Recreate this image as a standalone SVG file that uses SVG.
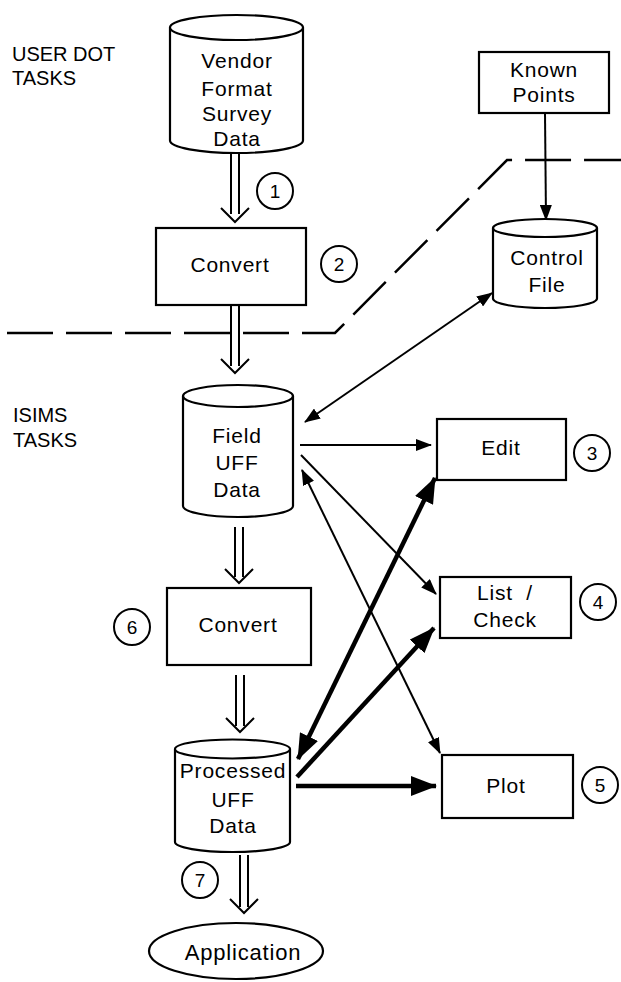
<svg xmlns="http://www.w3.org/2000/svg" width="621" height="982" viewBox="0 0 621 982">
  <style>
    .shape { fill: #ffffff; stroke: #000000; stroke-width: 2.2; }
    .txt { font-family: "Liberation Sans", Arial, sans-serif; font-size: 21px; letter-spacing: 0.8px; fill: #000000; text-anchor: middle; }
    .lbl { font-family: "Liberation Sans", Arial, sans-serif; font-size: 20px; fill: #000000; }
    .num { font-family: "Liberation Sans", Arial, sans-serif; font-size: 19px; fill: #000000; text-anchor: middle; }
    .ring { fill: none; stroke: #000000; stroke-width: 2; }
    .thin { fill: none; stroke: #000000; stroke-width: 2; }
    .thick { fill: none; stroke: #000000; stroke-width: 4.5; }
    .hollow { fill: none; stroke: #000000; stroke-width: 2; stroke-linejoin: miter; }
    .boundary { fill: none; stroke: #000000; stroke-width: 2.5; stroke-dasharray: 46 13; }
  </style>
  <defs>
    <marker id="headThin" viewBox="0 0 16 12" refX="15" refY="6" markerWidth="16" markerHeight="12" markerUnits="userSpaceOnUse" orient="auto-start-reverse">
      <path d="M0,0 L16,6 L0,12 z" fill="#000000"/>
    </marker>
    <marker id="headThick" viewBox="0 0 26 20" refX="25" refY="10" markerWidth="26" markerHeight="20" markerUnits="userSpaceOnUse" orient="auto-start-reverse">
      <path d="M0,0 L26,10 L0,20 z" fill="#000000"/>
    </marker>
  </defs>

  <!-- area labels -->
  <g id="area-labels">
    <text class="lbl" x="12" y="61">USER DOT</text>
    <text class="lbl" x="12" y="85">TASKS</text>
    <text class="lbl" x="13" y="422">ISIMS</text>
    <text class="lbl" x="13" y="447">TASKS</text>
  </g>

  <!-- boundary between user and ISIMS tasks -->
  <path class="boundary" d="M7,333 H335 L507,160 H621"/>

  <!-- connectors -->
  <g id="connectors">
    <!-- hollow flow arrows down the main column -->
    <path class="hollow" d="M231,154 V214 M239,154 V214 M221,208 L235,222 L249,208"/>
    <path class="hollow" d="M231,306 V366 M239,306 V366 M221,359 L235,373 L249,359"/>
    <path class="hollow" d="M235,527 V577 M243,527 V577 M225,569 L239,583 L253,569"/>
    <path class="hollow" d="M236,675 V726 M244,675 V726 M226,718 L240,732 L254,718"/>
    <path class="hollow" d="M240,855 V907 M248,855 V907 M230,899 L244,913 L258,899"/>

    <!-- thin arrows -->
    <line class="thin" x1="545" y1="113" x2="546" y2="220" marker-end="url(#headThin)"/>
    <line class="thin" x1="305" y1="422" x2="492" y2="293" marker-start="url(#headThin)" marker-end="url(#headThin)"/>
    <line class="thin" x1="300" y1="445" x2="431" y2="445" marker-end="url(#headThin)"/>
    <line class="thin" x1="301" y1="455" x2="436" y2="594" marker-end="url(#headThin)"/>
    <line class="thin" x1="302" y1="470" x2="440" y2="753" marker-start="url(#headThin)" marker-end="url(#headThin)"/>

    <!-- thick arrows from processed data -->
    <line class="thick" x1="298" y1="759" x2="435" y2="478" marker-start="url(#headThick)" marker-end="url(#headThick)"/>
    <line class="thick" x1="297" y1="777" x2="434" y2="628" marker-end="url(#headThick)"/>
    <line class="thick" x1="296" y1="786" x2="436" y2="786" marker-end="url(#headThick)"/>
  </g>

  <!-- data stores and processes -->
  <g id="vendor-data">
    <path class="shape" d="M170,27.5 V140.5 A66.5,12.5 0 0 0 303,140.5 V27.5"/>
    <ellipse class="shape" cx="236.5" cy="27.5" rx="66.5" ry="12.5"/>
    <text class="txt" x="237" y="68">Vendor</text>
    <text class="txt" x="237" y="96">Format</text>
    <text class="txt" x="237" y="121">Survey</text>
    <text class="txt" x="237" y="146">Data</text>
  </g>

  <g id="known-points">
    <rect class="shape" x="479" y="52" width="130" height="61"/>
    <text class="txt" x="544" y="77">Known</text>
    <text class="txt" x="544" y="102">Points</text>
  </g>

  <g id="convert-1">
    <rect class="shape" x="156" y="228" width="150" height="77"/>
    <text class="txt" x="230" y="272">Convert</text>
  </g>

  <g id="control-file">
    <path class="shape" d="M493,228 V298.5 A52,9.5 0 0 0 597,298.5 V228"/>
    <ellipse class="shape" cx="545" cy="228" rx="52" ry="9"/>
    <text class="txt" x="547" y="265">Control</text>
    <text class="txt" x="547" y="292">File</text>
  </g>

  <g id="field-uff">
    <path class="shape" d="M183,396 V506 A55,11 0 0 0 293,506 V396"/>
    <ellipse class="shape" cx="238" cy="396" rx="55" ry="11"/>
    <text class="txt" x="237" y="443">Field</text>
    <text class="txt" x="237" y="470">UFF</text>
    <text class="txt" x="237" y="497">Data</text>
  </g>

  <g id="edit">
    <rect class="shape" x="437" y="419" width="129" height="61"/>
    <text class="txt" x="501" y="455">Edit</text>
  </g>

  <g id="list-check">
    <rect class="shape" x="440" y="577" width="131" height="61"/>
    <text class="txt" x="505" y="600" xml:space="preserve">List  /</text>
    <text class="txt" x="505" y="627">Check</text>
  </g>

  <g id="convert-2">
    <rect class="shape" x="167" y="588" width="144" height="77"/>
    <text class="txt" x="238" y="632">Convert</text>
  </g>

  <g id="processed-uff">
    <path class="shape" d="M175,749 V842 A57.5,10 0 0 0 290,842 V749"/>
    <ellipse class="shape" cx="232.5" cy="749" rx="57.5" ry="9.5"/>
    <text class="txt" x="233" y="778">Processed</text>
    <text class="txt" x="233" y="807">UFF</text>
    <text class="txt" x="233" y="833">Data</text>
  </g>

  <g id="plot">
    <rect class="shape" x="442" y="755" width="131" height="63"/>
    <text class="txt" x="506" y="793">Plot</text>
  </g>

  <g id="application">
    <ellipse class="shape" cx="236" cy="951" rx="87" ry="28"/>
    <text class="txt" x="243" y="960" style="font-size:22px">Application</text>
  </g>

  <!-- step numbers -->
  <g id="step-1"><circle class="ring" cx="275" cy="191" r="18"/><text class="num" x="275" y="198">1</text></g>
  <g id="step-2"><circle class="ring" cx="339" cy="264" r="18"/><text class="num" x="339" y="271">2</text></g>
  <g id="step-3"><circle class="ring" cx="592" cy="453" r="18"/><text class="num" x="592" y="460">3</text></g>
  <g id="step-4"><circle class="ring" cx="598" cy="602" r="18"/><text class="num" x="598" y="609">4</text></g>
  <g id="step-5"><circle class="ring" cx="600" cy="785" r="18"/><text class="num" x="600" y="792">5</text></g>
  <g id="step-6"><circle class="ring" cx="132" cy="627" r="18"/><text class="num" x="132" y="634">6</text></g>
  <g id="step-7"><circle class="ring" cx="200" cy="880" r="18"/><text class="num" x="200" y="887">7</text></g>
</svg>
